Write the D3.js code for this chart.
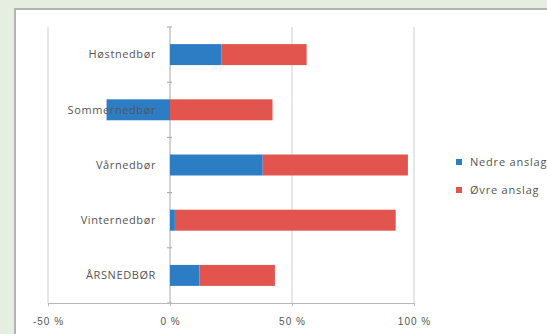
<!DOCTYPE html>
<html>
<head>
<meta charset="utf-8">
<script src="https://cdn.jsdelivr.net/npm/d3@7"></script>
<style>
  body { margin: 0; background: #e6eee2; }
  svg { display: block; }
</style>
</head>
<body>
<div id="chart"></div>
<script>
// chart values
const categories = ['Høstnedbør', 'Sommernedbør', 'Vårnedbør', 'Vinternedbør', 'ÅRSNEDBØR']
const nedreAnslag = [21, -26, 38, 2, 12]
const ovreAnslag = [35, 42, 59.5, 90.5, 31]
const seriesNames = ['Nedre anslag', 'Øvre anslag']
const xTicks = [-50, 0, 50, 100]

const w = 547, h = 334
const colors = ['#2d7dc4', '#e2554f']

const svg = d3.select('#chart').append('svg')
    .attr('width', w)
    .attr('height', h)
    .style('font-family', '"Open Sans", "DejaVu Sans", sans-serif')

// white chart panel
svg.append('rect')
    .attr('x', 15).attr('y', 9)
    .attr('width', 600).attr('height', 400)
    .attr('fill', '#fff')
    .attr('stroke', '#b4b4b4')
    .attr('stroke-width', 2)

const rows = categories.map((c, i) => ({ cat: c, nedre: nedreAnslag[i], ovre: ovreAnslag[i] }))
const stacked = d3.stack()
    .keys(['nedre', 'ovre'])
    .offset(d3.stackOffsetDiverging)(rows)

const x = d3.scaleLinear().domain([-50, 100]).range([48, 414])
const y = d3.scaleBand().domain(categories).range([27, 303])
    .paddingInner(0.62).paddingOuter(0.31)

// gridlines
svg.append('g').selectAll('line')
    .data(xTicks)
    .enter().append('line')
    .attr('x1', d => x(d)).attr('x2', d => x(d))
    .attr('y1', 27).attr('y2', 303)
    .attr('stroke', d => d === 0 ? '#a8a8a8' : '#cfcfcf')
    .attr('stroke-width', 1)

// bars
svg.append('g').selectAll('g')
    .data(stacked)
    .enter().append('g')
    .attr('fill', (d, i) => colors[i])
    .selectAll('rect')
    .data(d => d)
    .enter().append('rect')
    .attr('x', d => x(Math.min(d[0], d[1])))
    .attr('width', d => Math.abs(x(d[1]) - x(d[0])))
    .attr('y', d => y(d.data.cat))
    .attr('height', y.bandwidth())

// category tick marks on zero line
const step = y.step()
svg.append('g').selectAll('line')
    .data(d3.range(categories.length + 1))
    .enter().append('line')
    .attr('x1', x(0) - 3).attr('x2', x(0) + 2)
    .attr('y1', i => 27 + i * step).attr('y2', i => 27 + i * step)
    .attr('stroke', '#a8a8a8')

// bottom axis
const xAxis = d3.axisBottom(x)
    .tickValues(xTicks)
    .tickSize(3)
    .tickFormat(d => d + ' %')
const gx = svg.append('g')
    .attr('transform', 'translate(0, 303)')
    .call(xAxis)
gx.select('.domain').attr('stroke', '#b8b8b8')
gx.selectAll('.tick line').attr('stroke', '#b8b8b8')
gx.selectAll('.tick text')
    .attr('y', 15)
    .attr('fill', '#555')
    .style('font-size', '10px')
    .style('letter-spacing', '1px')

// category labels (drawn over bars)
svg.append('g').selectAll('text')
    .data(categories)
    .enter().append('text')
    .attr('x', 156)
    .attr('y', d => y(d) + y.bandwidth() / 2)
    .attr('dy', '0.35em')
    .attr('text-anchor', 'end')
    .attr('fill', '#555')
    .style('font-size', '11px')
    .style('letter-spacing', '0.6px')
    .text(d => d)

// legend
const legend = svg.append('g').selectAll('g')
    .data(seriesNames)
    .enter().append('g')
    .attr('transform', (d, i) => `translate(456, ${162 + i * 28})`)
legend.append('rect')
    .attr('x', 0).attr('y', -3)
    .attr('width', 6).attr('height', 6)
    .attr('fill', (d, i) => colors[i])
legend.append('text')
    .attr('x', 14)
    .attr('dy', '0.35em')
    .attr('fill', '#555')
    .style('font-size', '11px')
    .style('letter-spacing', '0.8px')
    .text(d => d)
</script>
</body>
</html>
